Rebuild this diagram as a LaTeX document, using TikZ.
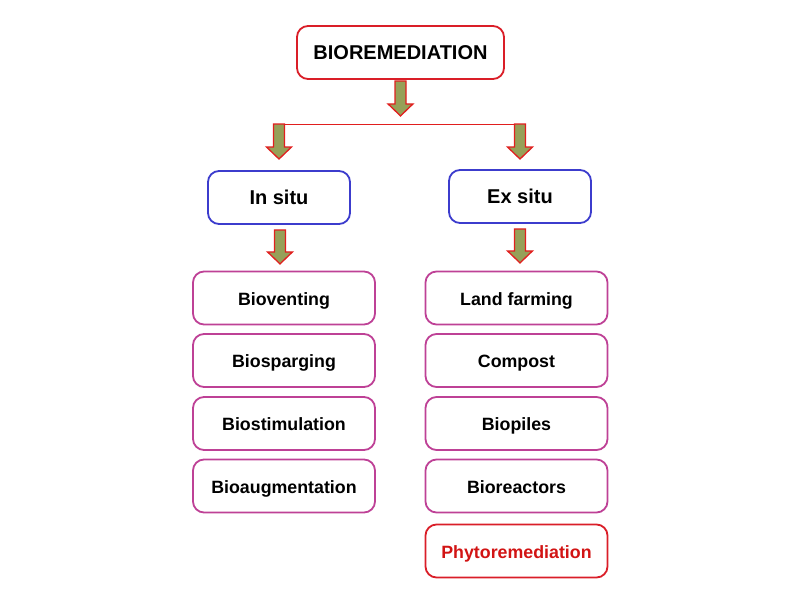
\documentclass[tikz,border=0pt]{standalone}
\usepackage{fontspec}
\setmainfont{Liberation Sans}
\definecolor{boxred}{RGB}{218,30,40}
\definecolor{boxblue}{RGB}{60,60,205}
\definecolor{boxpink}{RGB}{190,65,150}
\definecolor{txtred}{RGB}{210,20,20}
\definecolor{arrowfill}{RGB}{150,160,88}
\definecolor{arrowred}{RGB}{225,30,30}
\tikzset{
  box/.style={draw, line width=1.8pt, rounded corners=11pt, fill=white, inner sep=0pt,
    text height=14pt, text depth=0pt,
    minimum width=182pt, minimum height=53pt, font=\bfseries\fontsize{17.8}{20}\selectfont},
  titlebox/.style={box, draw=boxred, minimum width=207pt, font=\bfseries\fontsize{20}{22}\selectfont},
  situbox/.style={box, draw=boxblue, minimum width=142pt, font=\bfseries\fontsize{20}{22}\selectfont},
  methbox/.style={box, draw=boxpink},
  phytobox/.style={box, draw=boxred, text=txtred},
  pics/darrow/.style={code={
    \filldraw[fill=arrowfill, draw=arrowred, line width=1.3pt, line join=miter]
      (-5.5,0) -- (5.5,0) -- (5.5,#1-12) -- (12.5,#1-12) -- (0,#1) -- (-12.5,#1-12)
      -- (-5.5,#1-12) -- cycle;}},
  branch/.style={draw=arrowred, line width=1pt}
}
\begin{document}
\begin{tikzpicture}[x=1pt,y=-1pt]
\useasboundingbox (0,0) rectangle (800,600);
\node[titlebox] (title) at (400.5,52.5) {BIOREMEDIATION};
\node[situbox] (insitu) at (279,197.5) {In situ};
\node[situbox] (exsitu) at (520,196.5) {Ex situ};
\node[methbox] (b1) at (284,298) {Bioventing};
\node[methbox] (b2) at (284,360.5) {Biosparging};
\node[methbox] (b3) at (284,423.5) {Biostimulation};
\node[methbox] (b4) at (284,486) {Bioaugmentation};
\node[methbox] (e1) at (516.5,298) {Land farming};
\node[methbox] (e2) at (516.5,360.5) {Compost};
\node[methbox] (e3) at (516.5,423.5) {Biopiles};
\node[methbox] (e4) at (516.5,486) {Bioreactors};
\node[phytobox] (e5) at (516.5,551) {Phytoremediation};
% connectors
\coordinate (split) at ([yshift=-1pt]title.south);
\coordinate (lt) at (insitu.north |- 0,124);
\coordinate (rt) at (exsitu.north |- 0,124);
\pic at (split) {darrow=35};
\draw[branch] (lt) -- (rt);
\pic at (lt) {darrow=35};
\pic at (rt) {darrow=35};
\pic at ([xshift=1pt,yshift=-5pt]insitu.south) {darrow=34};
\pic at ([yshift=-5pt]exsitu.south) {darrow=34};
\end{tikzpicture}
\end{document}
